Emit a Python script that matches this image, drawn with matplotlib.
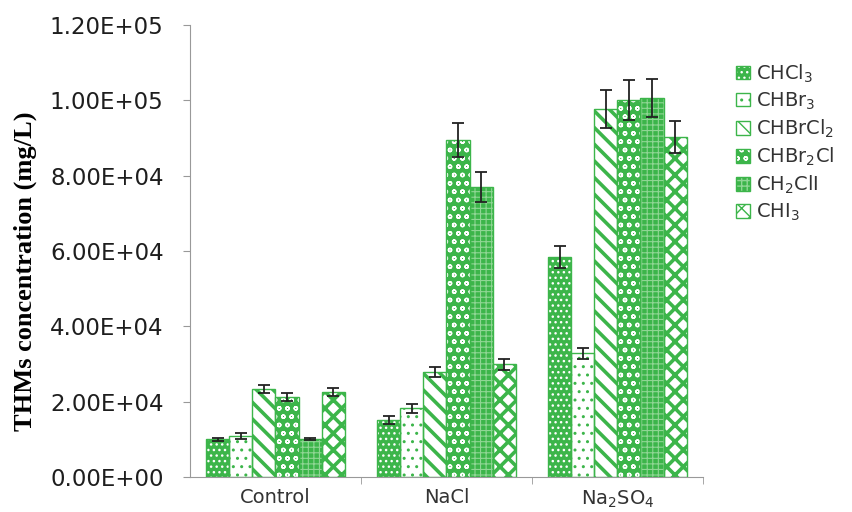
import matplotlib
matplotlib.use("Agg")
import matplotlib.pyplot as plt
import numpy as np
from matplotlib.patches import Patch
from matplotlib.legend_handler import HandlerTuple

categories = ["Control", "NaCl", r"Na$_2$SO$_4$"]
series = [r"CHCl$_3$", r"CHBr$_3$", r"CHBrCl$_2$", r"CHBr$_2$Cl", r"CH$_2$ClI", r"CHI$_3$"]

chcl3 = [10100, 15100, 58400]
chbr3 = [10900, 18300, 32900]
chbrcl2 = [23400, 27900, 97700]
chbr2cl = [21200, 89500, 100200]
ch2cli = [10100, 77000, 100700]
chi3 = [22600, 30000, 90300]

chcl3_err = [400, 1100, 2900]
chbr3_err = [700, 1200, 1500]
chbrcl2_err = [1100, 1400, 5000]
chbr2cl_err = [1100, 4500, 5300]
ch2cli_err = [300, 3900, 5100]
chi3_err = [1100, 1500, 4300]

ytick_vals = [0, 20000, 40000, 60000, 80000, 100000, 120000]
ytick_labels = ["0.00E+00", "2.00E+04", "4.00E+04", "6.00E+04", "8.00E+04", "1.00E+05", "1.20E+05"]

values = [chcl3, chbr3, chbrcl2, chbr2cl, ch2cli, chi3]
errors = [chcl3_err, chbr3_err, chbrcl2_err, chbr2cl_err, ch2cli_err, chi3_err]

green = "#3cb54a"
# (facecolor, hatchcolor, hatch, hatch linewidth)
styles = [
    (green, "white", "...", 1.0),
    ("white", green, "..", 1.0),
    ("white", green, "\\\\", 2.6),
    (green, "white", "oo", 1.0),
    (green, "#8fd694", "+++", 0.8),
    ("white", green, "xx", 2.6),
]

fig = plt.figure(figsize=(8.52, 5.12), dpi=100)
ax = fig.add_axes([0.223, 0.068, 0.602, 0.883])

x = np.arange(len(categories))
n = len(series)
bw = 0.135
handles = []
for i in range(n):
    pos = x + (i - (n - 1) / 2) * bw
    fc, hc, h, hlw = styles[i]
    with plt.rc_context({"hatch.linewidth": hlw}):
        ax.bar(pos, values[i], bw, color=fc, edgecolor=hc, hatch=h, linewidth=0, zorder=2)
        p1 = Patch(facecolor=fc, edgecolor=hc, hatch=h, linewidth=0)
    ax.bar(pos, values[i], bw, fill=False, edgecolor=green, linewidth=1.0, zorder=3)
    ax.errorbar(pos, values[i], yerr=errors[i], fmt="none", ecolor="#222222",
                elinewidth=1.3, capsize=4, capthick=1.3, zorder=4)
    p2 = Patch(fill=False, edgecolor=green, linewidth=1.0)
    handles.append((p1, p2))

ax.set_xlim(-0.5, 2.5)
ax.set_ylim(0, 120000)
ax.set_yticks(ytick_vals)
ax.set_yticklabels(ytick_labels, fontsize=16.5, color="#1e1e1e")
ax.set_xticks(x)
ax.set_xticklabels(categories, fontsize=14, color="#333333")
ax.tick_params(axis="x", length=0, pad=8)
ax.set_xticks([0.5, 1.5, 2.5], minor=True)
ax.tick_params(axis="x", which="minor", length=5, color="#999999")
ax.tick_params(axis="y", length=5, color="#999999", pad=14)

for s in ["top", "right"]:
    ax.spines[s].set_visible(False)
for s in ["left", "bottom"]:
    ax.spines[s].set_color("#999999")

ax.set_ylabel("THMs concentration (mg/L)", family="Liberation Serif", fontweight="bold",
              fontsize=19)
ax.yaxis.set_label_coords(-0.298, 0.456)

leg = ax.legend(handles=handles, labels=series, handler_map={tuple: HandlerTuple(ndivide=1)},
                loc="upper left", bbox_to_anchor=(1.05, 0.935), frameon=False,
                fontsize=14, handlelength=0.7, handleheight=0.7, handletextpad=0.3,
                labelspacing=0.3, borderaxespad=0)
for t in leg.get_texts():
    t.set_color("#333333")

fig.savefig("out.png", dpi=100)
